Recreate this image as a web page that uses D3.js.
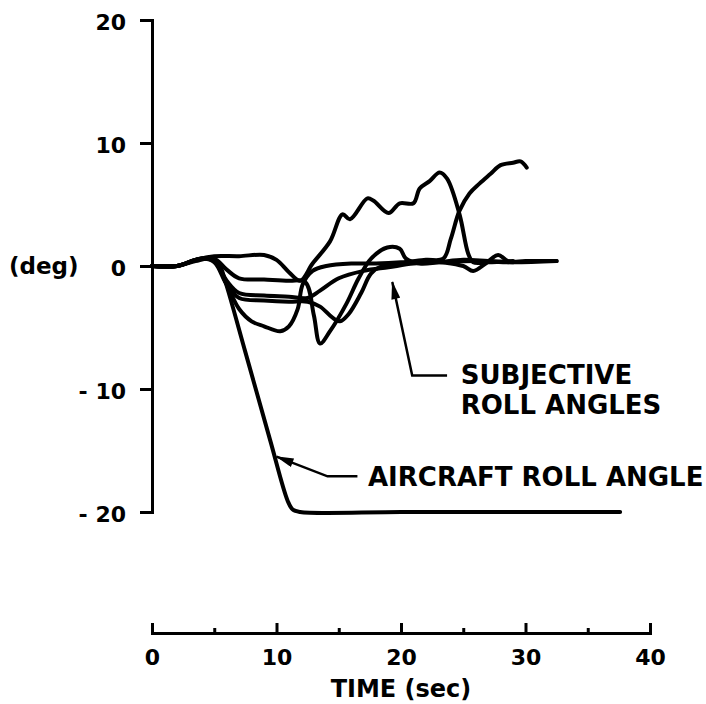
<!DOCTYPE html>
<html>
<head>
<meta charset="utf-8">
<script src="https://cdn.jsdelivr.net/npm/d3@7"></script>
<style>
  body { margin: 0; background: #fff; }
  text { font-family: "DejaVu Sans", sans-serif; font-weight: bold; fill: #000; }
</style>
</head>
<body>
<div id="chart"></div>
<script>
// Axis ticks
const xTicks = [0, 10, 20, 30, 40];
const xMinorTicks = [5, 15, 25, 35];
const yTicks = [20, 10, 0, -10, -20];

// Aircraft roll angle [time (sec), deg]
const aircraft = [[0,0],[2,0],[3.5,0.4],[4.7,0.6],[5.4,0.1],[5.9,-1.3],[7.5,-7.0],[9.5,-14.2],
  [10.9,-19.1],[11.3,-19.8],[11.9,-20],[20,-20],[30,-20],[37.6,-20]];

// Subjective roll angles, one array per subject
const subj1 = [[0,0],[2,0],[3.5,0.5],[5,0.8],[7,0.8],[9,0.9],[10,0.5],[11,-0.5],[11.9,-1.2],
  [12.9,0.2],[14.3,2.0],[15.3,4.2],[15.9,3.8],[17.3,5.5],[17.8,5.3],[19.0,4.3],[19.9,5.1],
  [21.0,5.1],[21.5,6.3],[22.3,6.9],[23.1,7.6],[23.7,7.1],[24.7,4.2],[25.4,1.0],[25.8,0.3],
  [27,0.3],[29,0.4]];
const subj2 = [[0,0],[2,0],[3.5,0.5],[5,0.6],[6,-0.3],[7,-1.0],[9,-1.1],[11,-1.2],[12.3,-1.3],
  [13,-4],[13.5,-6.3],[14.3,-5.3],[15.6,-3.1],[16.6,-1.0],[17.6,0.6],[18.9,1.5],[19.9,1.4],
  [20.4,0.6],[21.5,0.2],[23,0.3],[25,0.5],[27,0.4],[29,0.3]];
const subj3 = [[0,0],[2,0],[4,0.6],[5,0.5],[6,-1.5],[7,-3.5],[8,-4.5],[9,-4.9],[10.3,-5.3],
  [11,-4.9],[11.7,-3.5],[12.1,-1.5],[12.9,-0.4],[14,0],[16,0.2],[18,0.2],[20,0.3],[22,0.5],
  [23.4,0.6],[24.0,2.2],[24.7,4.5],[25.5,5.9],[26.3,6.7],[27.2,7.5],[28,8.2],[29,8.4],
  [29.6,8.5],[30.1,8.0]];
const subj4 = [[0,0],[2,0],[4,0.6],[5,0.4],[6,-1.2],[7,-2.2],[9,-2.4],[11,-2.5],[12.5,-2.6],
  [13.5,-2.0],[15,-1.0],[17,-0.4],[19,-0.1],[21,0.2],[23,0.3],[26,0.4],[29,0.3],[32.5,0.4]];
const subj5 = [[0,0],[2,0],[4,0.6],[5,0.3],[6,-1.5],[7,-2.6],[9,-2.8],[11,-2.9],[12.5,-2.9],
  [13.5,-3.3],[14.5,-4.2],[15.1,-4.5],[15.8,-3.9],[16.8,-2.2],[17.6,-0.6],[18.5,0.0],[20,0.2],
  [22,0.4],[25,0.0],[25.8,-0.4],[26.8,0.2],[27.8,0.9],[28.6,0.4],[30,0.4],[32.5,0.4]];
const subjective = [subj1, subj2, subj3, subj4, subj5];

// Annotation leaders, in data units
const subjArrow = [[23.7,-8.9],[20.9,-8.9],[19.3,-1.3]];
const aircraftArrow = [[16.5,-17.1],[14.1,-17.1],[10.0,-15.5]];

const width = 706, height = 704;

const svg = d3.select("#chart").append("svg")
  .attr("width", width)
  .attr("height", height);

const x = d3.scaleLinear().domain([0, 40]).range([152, 650]);
const y = d3.scaleLinear().domain([-20, 20]).range([512, 20]);

// arrow head
svg.append("defs").append("marker")
  .attr("id", "head")
  .attr("viewBox", "0 0 20 10")
  .attr("refX", 19).attr("refY", 5)
  .attr("markerWidth", 20).attr("markerHeight", 9)
  .attr("markerUnits", "userSpaceOnUse")
  .attr("orient", "auto")
  .append("path")
  .attr("d", "M0,0L20,5L0,10Z")
  .attr("fill", "#000");

// y axis (bracket style)
const yAxis = svg.append("g")
  .attr("transform", `translate(${x(0)},0)`)
  .call(d3.axisLeft(y).tickValues(yTicks).tickSize(12).tickPadding(14)
    .tickFormat(d => d < 0 ? "- " + Math.abs(d) : d));
yAxis.selectAll("path, line").attr("stroke", "#000").attr("stroke-width", 3);
yAxis.selectAll("text").attr("font-size", 22).attr("dy", "0.42em")
  .style("font-family", "DejaVu Sans").style("font-weight", "bold");

svg.append("text")
  .attr("x", 9)
  .attr("y", y(0) + 8)
  .attr("font-size", 23)
  .text("(deg)");

// x axis, ticks pointing up
const xAxisY = 633;
const xAxis = svg.append("g")
  .attr("transform", `translate(0,${xAxisY})`)
  .call(d3.axisBottom(x).tickValues(xTicks).tickSize(-10).tickPadding(16));
xAxis.selectAll("path, line").attr("stroke", "#000").attr("stroke-width", 3);
xAxis.selectAll("text").attr("font-size", 22)
  .style("font-family", "DejaVu Sans").style("font-weight", "bold");

const xMinor = svg.append("g")
  .attr("transform", `translate(0,${xAxisY})`)
  .call(d3.axisBottom(x).tickValues(xMinorTicks).tickSize(-5).tickFormat(""));
xMinor.select(".domain").remove();
xMinor.selectAll("line").attr("stroke", "#000").attr("stroke-width", 3);

svg.append("text")
  .attr("x", x(20))
  .attr("y", 697)
  .attr("text-anchor", "middle")
  .attr("font-size", 24)
  .text("TIME (sec)");

// curves
const line = d3.line()
  .x(d => x(d[0]))
  .y(d => y(d[1]))
  .curve(d3.curveCatmullRom.alpha(0.5));

svg.selectAll(".subj")
  .data(subjective)
  .enter()
  .append("path")
  .attr("class", "subj")
  .attr("d", line)
  .attr("fill", "none")
  .attr("stroke", "#000")
  .attr("stroke-width", 4)
  .attr("stroke-linejoin", "round")
  .attr("stroke-linecap", "round");

svg.append("path")
  .datum(aircraft)
  .attr("d", line)
  .attr("fill", "none")
  .attr("stroke", "#000")
  .attr("stroke-width", 4)
  .attr("stroke-linejoin", "round")
  .attr("stroke-linecap", "round");

// annotations
const leader = d3.line().x(d => x(d[0])).y(d => y(d[1]));
[subjArrow, aircraftArrow].forEach(a => {
  svg.append("path")
    .datum(a)
    .attr("d", leader)
    .attr("fill", "none")
    .attr("stroke", "#000")
    .attr("stroke-width", 2.5)
    .attr("marker-end", "url(#head)");
});

svg.append("text")
  .attr("x", x(24.8)).attr("y", y(-9.6))
  .attr("font-size", 26)
  .text("SUBJECTIVE");
svg.append("text")
  .attr("x", x(24.8)).attr("y", y(-12.0))
  .attr("font-size", 26)
  .text("ROLL ANGLES");
svg.append("text")
  .attr("x", x(17.35)).attr("y", y(-17.9))
  .attr("font-size", 26)
  .text("AIRCRAFT ROLL ANGLE");
</script>
</body>
</html>
